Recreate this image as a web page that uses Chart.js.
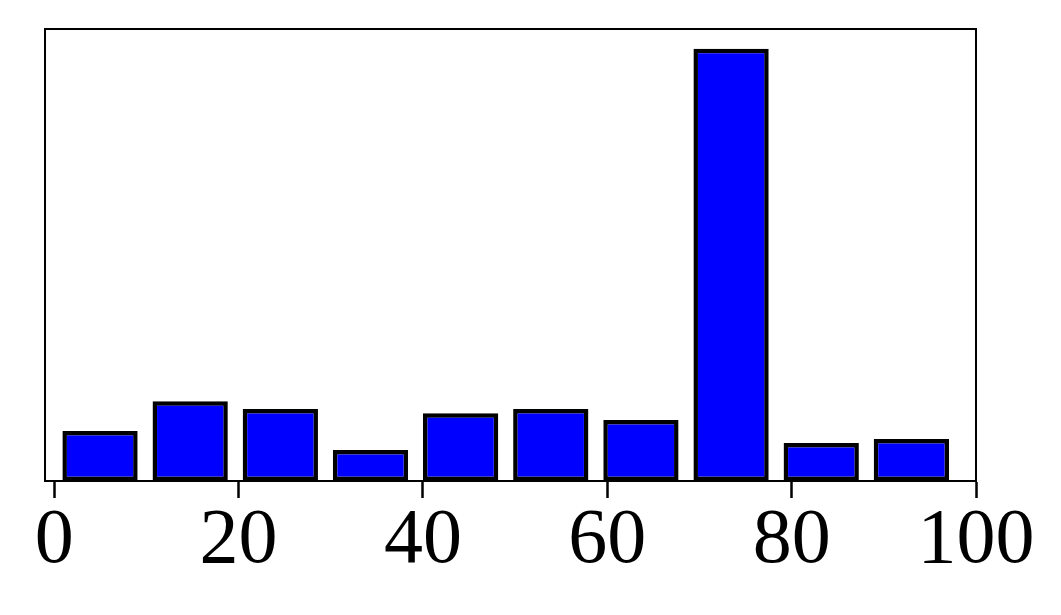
<!DOCTYPE html>
<html>
<head>
<meta charset="utf-8">
<script src="https://cdn.jsdelivr.net/npm/chart.js@4"></script>
<style>
  html, body { margin: 0; padding: 0; background: #fff; }
  #wrap { width: 1061px; height: 615px; }
</style>
</head>
<body>
<div id="wrap"><canvas id="c" width="1061" height="615"></canvas></div>
<script>
// Bin centres (x) and bar heights (arbitrary units)
const binCenters = [4.97, 14.75, 24.53, 34.31, 44.09, 53.87, 63.65, 73.43, 83.21, 92.99];
const barHeights = [5.00, 7.98, 7.21, 3.11, 6.78, 7.21, 6.11, 43.23, 3.81, 4.21];
const xTickValues = [0, 20, 40, 60, 80, 100];
const xLimits = [-1, 100];
const yLimits = [0, 45.2];

const points = binCenters.map((x, i) => ({ x: x, y: barHeights[i] }));

const framePlugin = {
  id: 'frame',
  afterDraw(chart) {
    const a = chart.chartArea, ctx = chart.ctx;
    ctx.save();
    ctx.strokeStyle = '#000';
    ctx.lineWidth = 2;
    ctx.strokeRect(a.left, a.top, a.right - a.left, a.bottom - a.top);
    ctx.restore();
  }
};

new Chart(document.getElementById('c'), {
  type: 'bar',
  data: {
    datasets: [{
      data: points,
      backgroundColor: '#0000ff',
      borderColor: '#000000',
      borderWidth: 4.5,
      borderSkipped: false,
      barPercentage: 0.835,
      categoryPercentage: 1.0
    }]
  },
  options: {
    responsive: false,
    animation: false,
    devicePixelRatio: 1,
    layout: { padding: { left: 45, right: 85, top: 29, bottom: 0 } },
    plugins: { legend: { display: false }, tooltip: { enabled: false } },
    scales: {
      x: {
        type: 'linear',
        min: xLimits[0],
        max: xLimits[1],
        offset: false,
        afterBuildTicks: (s) => { s.ticks = xTickValues.map(v => ({ value: v })); },
        afterFit: (s) => { s.height = 134; },
        grid: {
          display: true,
          offset: false,
          drawOnChartArea: false,
          drawTicks: true,
          tickLength: 17,
          tickWidth: 2.5,
          tickColor: '#000'
        },
        border: { display: true, color: '#000', width: 2 },
        ticks: {
          autoSkip: false,
          maxRotation: 0,
          padding: -3,
          color: '#000',
          font: { family: '"Liberation Serif", "DejaVu Serif", serif', size: 78 },
          callback: (v) => String(v)
        }
      },
      y: {
        display: false,
        min: yLimits[0],
        max: yLimits[1]
      }
    }
  },
  plugins: [framePlugin]
});
</script>
</body>
</html>
